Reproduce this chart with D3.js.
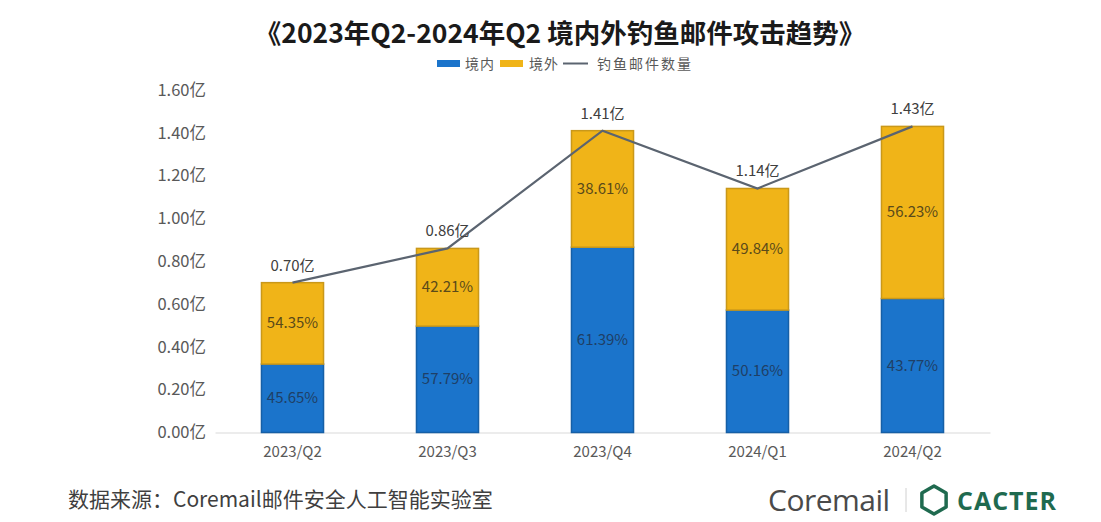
<!DOCTYPE html>
<html>
<head>
<meta charset="utf-8">
<script src="https://cdn.jsdelivr.net/npm/d3@7"></script>
<style>
  html, body { margin: 0; padding: 0; background: #fff; }
  svg { display: block; font-family: "Noto Sans CJK SC", "Noto Sans", sans-serif; }
</style>
</head>
<body>
<svg id="chart" width="1101" height="522"></svg>
<script>
// Quarterly phishing mail volume (hundred-million units) and domestic / overseas shares
const quarters = ["2023/Q2", "2023/Q3", "2023/Q4", "2024/Q1", "2024/Q2"];
const totals = [0.70, 0.86, 1.41, 1.14, 1.43];
const domesticPct = [45.65, 57.79, 61.39, 50.16, 43.77];
const overseasPct = [54.35, 42.21, 38.61, 49.84, 56.23];
const yTicks = [0, 0.2, 0.4, 0.6, 0.8, 1.0, 1.2, 1.4, 1.6];
const legendLabels = ["境内", "境外", "钓鱼邮件数量"];

const svg = d3.select("#chart");
const C = { blue: "#1b74cb", blueEdge: "#165fa6", gold: "#f0b418", goldEdge: "#c9981a", line: "#5b6470", text: "#595959" };

const x = d3.scaleBand().domain(quarters).range([215, 990]).paddingInner(0.59).paddingOuter(0.295);
const y = d3.scaleLinear().domain([0, 1.6]).range([432.5, 90]);

// Title
svg.append("text").attr("x", 560).attr("y", 43).attr("text-anchor", "middle")
  .attr("font-size", 26.5).attr("font-weight", 700).attr("fill", "#1a1a1a")
  .text("《2023年Q2-2024年Q2 境内外钓鱼邮件攻击趋势》");

// Legend
const lg = svg.append("g").attr("font-size", 14).attr("fill", C.text);
lg.append("rect").attr("x", 437).attr("y", 60).attr("width", 23).attr("height", 7).attr("fill", C.blue);
lg.append("text").attr("x", 465).attr("y", 69).attr("letter-spacing", 1).text(legendLabels[0]);
lg.append("rect").attr("x", 500).attr("y", 60).attr("width", 23).attr("height", 7).attr("fill", C.gold);
lg.append("text").attr("x", 529).attr("y", 69).attr("letter-spacing", 1).text(legendLabels[1]);
lg.append("line").attr("x1", 563).attr("x2", 588).attr("y1", 63.5).attr("y2", 63.5).attr("stroke", C.line).attr("stroke-width", 2);
lg.append("text").attr("x", 597).attr("y", 69).attr("letter-spacing", 2).text(legendLabels[2]);

// Y axis labels
const yAxis = d3.axisLeft(y).tickValues(yTicks).tickSize(0).tickPadding(0)
  .tickFormat(d => d3.format(".2f")(d) + "亿");
const ya = svg.append("g").attr("transform", "translate(206,0)").call(yAxis);
ya.select(".domain").remove();
ya.selectAll("text").attr("font-size", 16.5).attr("fill", C.text)
  .attr("font-family", "'Noto Sans CJK SC', sans-serif");

// X axis
const xAxis = d3.axisBottom(x).tickSize(0).tickPadding(14);
const xa = svg.append("g").attr("transform", `translate(0,${y(0)})`).call(xAxis);
xa.select(".domain").attr("stroke", "#d9d9d9").attr("stroke-width", 1);
xa.selectAll("text").attr("font-size", 15).attr("fill", C.text)
  .attr("font-family", "'Noto Sans CJK SC', sans-serif");

// Stacked bars
const rows = quarters.map((q, i) => {
  const dom = totals[i] * domesticPct[i] / 100;
  return { q, total: totals[i], dom, dp: domesticPct[i], op: overseasPct[i] };
});
const bars = svg.append("g");
rows.forEach(r => {
  const bx = x(r.q), bw = x.bandwidth();
  bars.append("rect").attr("x", bx + 0.75).attr("y", y(r.dom)).attr("width", bw - 1.5)
    .attr("height", y(0) - y(r.dom)).attr("fill", C.blue).attr("stroke", C.blueEdge).attr("stroke-width", 1.5);
  bars.append("rect").attr("x", bx + 0.75).attr("y", y(r.total)).attr("width", bw - 1.5)
    .attr("height", y(r.dom) - y(r.total)).attr("fill", C.gold).attr("stroke", C.goldEdge).attr("stroke-width", 1.5);
  const cx = bx + bw / 2;
  bars.append("text").attr("x", cx).attr("y", (y(0) + y(r.dom)) / 2 + 5).attr("text-anchor", "middle")
    .attr("font-size", 15).attr("fill", "#1f3f66").text(r.dp.toFixed(2) + "%");
  bars.append("text").attr("x", cx).attr("y", (y(r.dom) + y(r.total)) / 2 + 5).attr("text-anchor", "middle")
    .attr("font-size", 15).attr("fill", "#5a4a1a").text(r.op.toFixed(2) + "%");
});

// Total volume line
const line = d3.line().x(d => x(d.q) + x.bandwidth() / 2).y(d => y(d.total));
svg.append("path").datum(rows).attr("d", line).attr("fill", "none")
  .attr("stroke", C.line).attr("stroke-width", 2.2);
svg.append("g").selectAll("text").data(rows).join("text")
  .attr("x", d => x(d.q) + x.bandwidth() / 2).attr("y", d => y(d.total) - 12)
  .attr("text-anchor", "middle").attr("font-size", 15).attr("fill", "#404040")
  .text(d => d.total.toFixed(2) + "亿");

// Source note
svg.append("text").attr("x", 68).attr("y", 507).attr("font-size", 21).attr("fill", "#3f3f3f")
  .text("数据来源：Coremail邮件安全人工智能实验室");

// Brand marks
svg.append("text").attr("x", 768).attr("y", 511).attr("font-size", 30).attr("fill", "#4a4a4a")
  .attr("font-family", "'Open Sans', sans-serif").attr("letter-spacing", -0.5).text("Coremail");
svg.append("line").attr("x1", 906).attr("x2", 906).attr("y1", 488).attr("y2", 512)
  .attr("stroke", "#d0d0d0").attr("stroke-width", 1);
const hex = d3.range(6).map(k => {
  const a = Math.PI / 180 * (60 * k - 90);
  return [934 + 14 * Math.cos(a), 500 + 14 * Math.sin(a)];
});
svg.append("path").attr("d", "M" + hex.join("L") + "Z").attr("fill", "none")
  .attr("stroke", "#1f6a4f").attr("stroke-width", 3.5).attr("stroke-linejoin", "round");
svg.append("text").attr("x", 957).attr("y", 510).attr("font-size", 25).attr("font-weight", 700)
  .attr("fill", "#1f6a4f").attr("font-family", "'Open Sans', sans-serif").attr("letter-spacing", 1)
  .text("CACTER");
</script>
</body>
</html>
